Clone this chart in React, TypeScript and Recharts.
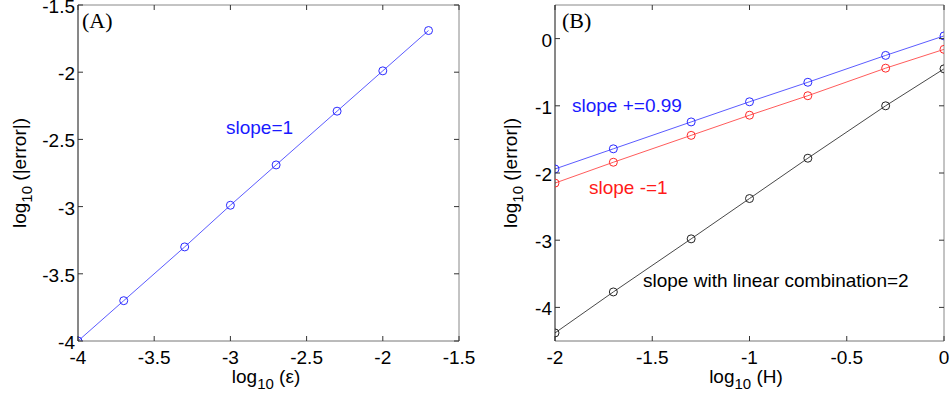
import React from 'react';
import { LineChart, Line, XAxis, YAxis } from 'recharts';

// Panel A
const epsLog = [-4, -3.7, -3.3, -3, -2.7, -2.3, -2, -1.7];
const errA = [-4, -3.7, -3.3, -2.99, -2.69, -2.29, -1.99, -1.69];
const ticksAX = [-4, -3.5, -3, -2.5, -2, -1.5];
const ticksAY = [-4, -3.5, -3, -2.5, -2, -1.5];

// Panel B
const hLog = [-2, -1.7, -1.3, -1, -0.7, -0.3, 0];
const errPlus = [-1.94, -1.64, -1.24, -0.94, -0.65, -0.25, 0.04];
const errMinus = [-2.15, -1.84, -1.44, -1.14, -0.85, -0.44, -0.16];
const errComb = [-4.38, -3.77, -2.98, -2.38, -1.78, -1.0, -0.45];
const ticksBX = [-2, -1.5, -1, -0.5, 0];
const ticksBY = [-4, -3, -2, -1, 0];

const labelA = '(A)';
const labelB = '(B)';
const noteA = 'slope=1';
const notePlus = 'slope +=0.99';
const noteMinus = 'slope -=1';
const noteComb = 'slope with linear combination=2';

const dataA = epsLog.map((x, i) => ({ x, y: errA[i] }));
const dataB = hLog.map((x, i) => ({ x, plus: errPlus[i], minus: errMinus[i], comb: errComb[i] }));

const SANS = '"Liberation Sans", Arial, Helvetica, sans-serif';
const SERIF = '"Liberation Serif", "Times New Roman", serif';
const FS = 19;
const TL = 5;
const TICK_COLOR = '#333';

function makeTick(side: string, showLabel: boolean, gap = 4) {
  return (props: any) => {
    const { x, y, payload } = props;
    let line: any = null;
    let text: any = null;
    if (side === 'bottom') {
      line = <line x1={x} y1={y} x2={x} y2={y - TL} stroke={TICK_COLOR} />;
      if (showLabel)
        text = (
          <text x={x} y={y + 23} textAnchor="middle" fontSize={FS} fontFamily={SANS} fill="#000">
            {payload.value}
          </text>
        );
    } else if (side === 'top') {
      line = <line x1={x} y1={y} x2={x} y2={y + TL} stroke={TICK_COLOR} />;
    } else if (side === 'left') {
      line = <line x1={x} y1={y} x2={x + TL} y2={y} stroke={TICK_COLOR} />;
      if (showLabel)
        text = (
          <text x={x - gap} y={y + 8} textAnchor="end" fontSize={FS} fontFamily={SANS} fill="#000">
            {payload.value}
          </text>
        );
    } else {
      line = <line x1={x} y1={y} x2={x - TL} y2={y} stroke={TICK_COLOR} />;
    }
    return (
      <g>
        {line}
        {text}
      </g>
    );
  };
}

const dotStyle = (c: string) => ({ r: 4, fill: 'none', stroke: c, strokeWidth: 1 });

function YLabel({ x, y }: { x: number; y: number }) {
  return (
    <text transform={`translate(${x},${y}) rotate(-90)`} textAnchor="middle" fontSize={FS} fontFamily={SANS} fill="#000">
      log
      <tspan fontSize={15} dy={6}>10</tspan>
      <tspan dy={-6}> (|error|)</tspan>
    </text>
  );
}

function XLabel({ x, y, sym }: { x: number; y: number; sym: string }) {
  return (
    <text x={x} y={y} textAnchor="middle" fontSize={FS} fontFamily={SANS} fill="#000">
      log
      <tspan fontSize={15} dy={6}>10</tspan>
      <tspan dy={-6}>{` (${sym})`}</tspan>
    </text>
  );
}

export default function App() {
  return (
    <div style={{ position: 'absolute', left: 0, top: 0, width: 952, height: 397, background: '#fff' }}>
      <div style={{ position: 'absolute', left: 0, top: 0 }}>
        <LineChart width={480} height={397} data={dataA} margin={{ top: 0, right: 0, bottom: 0, left: 0 }}>
          <XAxis xAxisId="b" dataKey="x" type="number" domain={[-4, -1.5]} ticks={ticksAX} interval={0}
            tickLine={false} tickSize={0} tickMargin={0} height={56} axisLine={{ stroke: '#777' }}
            tick={makeTick('bottom', true)} allowDataOverflow />
          <XAxis xAxisId="t" orientation="top" dataKey="x" type="number" domain={[-4, -1.5]} ticks={ticksAX} interval={0}
            tickLine={false} tickSize={0} tickMargin={0} height={5} axisLine={{ stroke: '#888' }}
            tick={makeTick('top', false)} allowDataOverflow />
          <YAxis yAxisId="l" type="number" domain={[-4, -1.5]} ticks={ticksAY} interval={0}
            tickLine={false} tickSize={0} tickMargin={0} width={78} axisLine={{ stroke: '#111' }}
            tick={makeTick('left', true, 3)} allowDataOverflow />
          <YAxis yAxisId="r" orientation="right" type="number" domain={[-4, -1.5]} ticks={ticksAY} interval={0}
            tickLine={false} tickSize={0} tickMargin={0} width={21} axisLine={{ stroke: '#888' }}
            tick={makeTick('right', false)} allowDataOverflow />
          <Line xAxisId="b" yAxisId="l" dataKey="y" type="linear" stroke="#4848ff" strokeWidth={0.9}
            dot={dotStyle('#2a2aff')} activeDot={false} isAnimationActive={false} />
          <text x={82} y={28} fontSize={22} fontFamily={SERIF} fill="#000">{labelA}</text>
          <text x={226} y={134} fontSize={FS} fontFamily={SANS} fill="#1a1aff">{noteA}</text>
          <YLabel x={26} y={173} />
          <XLabel x={266} y={383} sym="ε" />
        </LineChart>
      </div>
      <div style={{ position: 'absolute', left: 480, top: 0 }}>
        <LineChart width={472} height={397} data={dataB} margin={{ top: 0, right: 0, bottom: 0, left: 0 }}>
          <XAxis xAxisId="b" dataKey="x" type="number" domain={[-2, 0]} ticks={ticksBX} interval={0}
            tickLine={false} tickSize={0} tickMargin={0} height={56} axisLine={{ stroke: '#777' }}
            tick={makeTick('bottom', true)} allowDataOverflow />
          <XAxis xAxisId="t" orientation="top" dataKey="x" type="number" domain={[-2, 0]} ticks={ticksBX} interval={0}
            tickLine={false} tickSize={0} tickMargin={0} height={5} axisLine={{ stroke: '#888' }}
            tick={makeTick('top', false)} allowDataOverflow />
          <YAxis yAxisId="l" type="number" domain={[-4.5, 0.5]} ticks={ticksBY} interval={0}
            tickLine={false} tickSize={0} tickMargin={0} width={75} axisLine={{ stroke: '#111' }}
            tick={makeTick('left', true, 3)} allowDataOverflow />
          <YAxis yAxisId="r" orientation="right" type="number" domain={[-4.5, 0.5]} ticks={ticksBY} interval={0}
            tickLine={false} tickSize={0} tickMargin={0} width={8} axisLine={{ stroke: '#888' }}
            tick={makeTick('right', false)} allowDataOverflow />
          <Line xAxisId="b" yAxisId="l" dataKey="plus" type="linear" stroke="#4848ff" strokeWidth={0.9}
            dot={dotStyle('#2a2aff')} activeDot={false} isAnimationActive={false} />
          <Line xAxisId="b" yAxisId="l" dataKey="minus" type="linear" stroke="#ff4848" strokeWidth={0.9}
            dot={dotStyle('#ff2a2a')} activeDot={false} isAnimationActive={false} />
          <Line xAxisId="b" yAxisId="l" dataKey="comb" type="linear" stroke="#333" strokeWidth={0.9}
            dot={dotStyle('#222')} activeDot={false} isAnimationActive={false} />
          <text x={82} y={28} fontSize={22} fontFamily={SERIF} fill="#000">{labelB}</text>
          <text x={92} y={112} fontSize={FS} fontFamily={SANS} fill="#1a1aff">{notePlus}</text>
          <text x={109} y={194} fontSize={FS} fontFamily={SANS} fill="#ff1a1a">{noteMinus}</text>
          <text x={163} y={287} fontSize={FS} fontFamily={SANS} fill="#000">{noteComb}</text>
          <YLabel x={37} y={173} />
          <XLabel x={266} y={383} sym="H" />
        </LineChart>
      </div>
    </div>
  );
}
